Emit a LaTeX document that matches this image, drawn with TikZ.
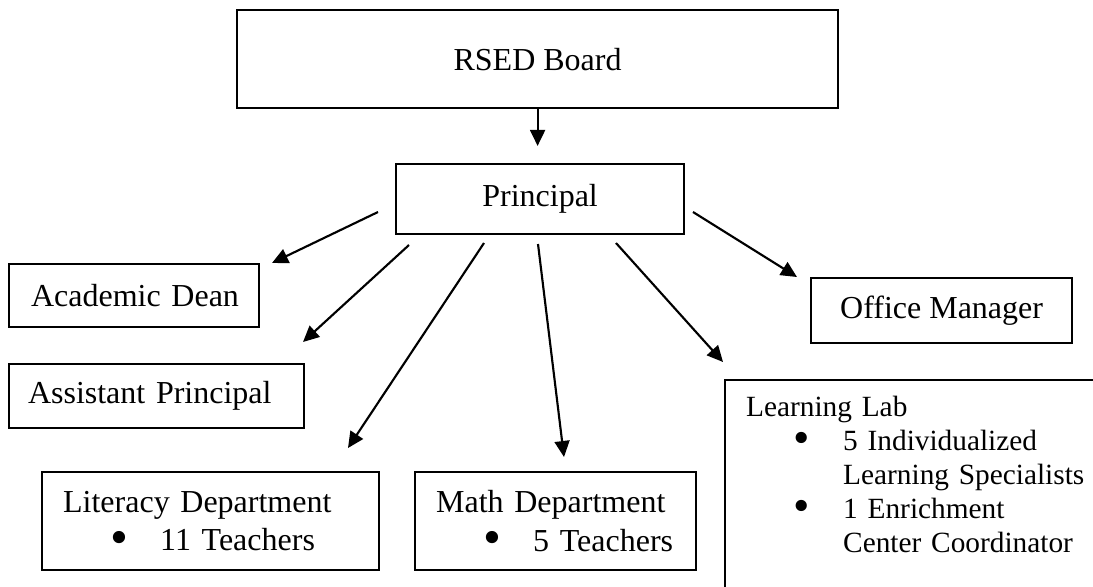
\documentclass[tikz,border=0pt]{standalone}
\usepackage{fontspec}
\setmainfont{Liberation Serif}
\usetikzlibrary{arrows.meta}

\newcommand{\orgbullet}[1]{\par\hspace*{17.8pt}\makebox[18.6pt][l]{\smash{\raisebox{-1.2pt}{\scalebox{1.6}{\textbullet}}}}#1}
\newcommand{\orgcont}[1]{\par\hspace*{36.4pt}#1}

\begin{document}
\begin{tikzpicture}[x=0.375pt, y=-0.375pt,
    box/.style={draw, line width=0.8pt, inner sep=0pt, anchor=north west,
        font=\fontsize{12}{14.6}\selectfont},
    arr/.style={-{Triangle[length=6pt,width=5.6pt]}, line width=0.8pt}]

        \useasboundingbox (0, 0) rectangle (1093, 586);

        % Top boxes
        \node[box, minimum width=225.4pt, minimum height=36.75pt] (board) at (236, 9) {RSED Board};
        \node[box, minimum width=108pt, minimum height=26.25pt] (principal) at (395, 163) {Principal};

        % Left column
        \node[box, align=left, text width=77.25pt, inner xsep=8.25pt, minimum height=23.6pt] (dean) at (8, 263) {Academic~Dean};
        \node[box, align=left, text width=96.4pt, inner xsep=7.1pt, minimum height=24pt] (asst) at (8, 363) {Assistant~Principal};

        % Departments
        \node[box, align=left, text width=110.6pt, inner xsep=7.9pt, minimum height=36.75pt] (literacy) at (41, 471)
            {Literacy Department\orgbullet{11 Teachers}};
        \node[box, align=left, text width=89.6pt, inner xsep=7.9pt, minimum height=36.75pt] (math) at (414, 471)
            {Math Department\orgbullet{5 Teachers}};

        % Right side
        \node[box, minimum width=97.9pt, minimum height=24.4pt] (office) at (810, 277) {Office Manager};
        \node[box, align=left, text width=150pt, inner xsep=7.9pt, inner ysep=6pt,
            font=\fontsize{11}{12.75}\selectfont] (lab) at (724, 379)
            {Learning Lab\orgbullet{5 Individualized}\orgcont{Learning Specialists}%
             \orgbullet{1 Enrichment}\orgcont{Center Coordinator}\par\rule{0pt}{30pt}};

        % Arrow ends
        \coordinate (pDean) at (378, 212);   \coordinate (tDean) at (272, 263);
        \coordinate (pAsst) at (409, 245);   \coordinate (tAsst) at (303, 342);
        \coordinate (pLit) at (484, 243);    \coordinate (tLit) at (348, 448);
        \coordinate (pMath) at (538, 244);   \coordinate (tMath) at (564, 457);
        \coordinate (pLab) at (616, 243);    \coordinate (tLab) at (723, 362);
        \coordinate (pOffice) at (693, 212); \coordinate (tOffice) at (797, 277);

        % Arrows
        \draw[arr, shorten >=6.4pt] (board.south) -- (board.south |- principal.north);
        \draw[arr] (pDean) -- (tDean);
        \draw[arr] (pAsst) -- (tAsst);
        \draw[arr] (pLit) -- (tLit);
        \draw[arr] (pMath) -- (tMath);
        \draw[arr] (pLab) -- (tLab);
        \draw[arr] (pOffice) -- (tOffice);

    \end{tikzpicture}
\end{document}
